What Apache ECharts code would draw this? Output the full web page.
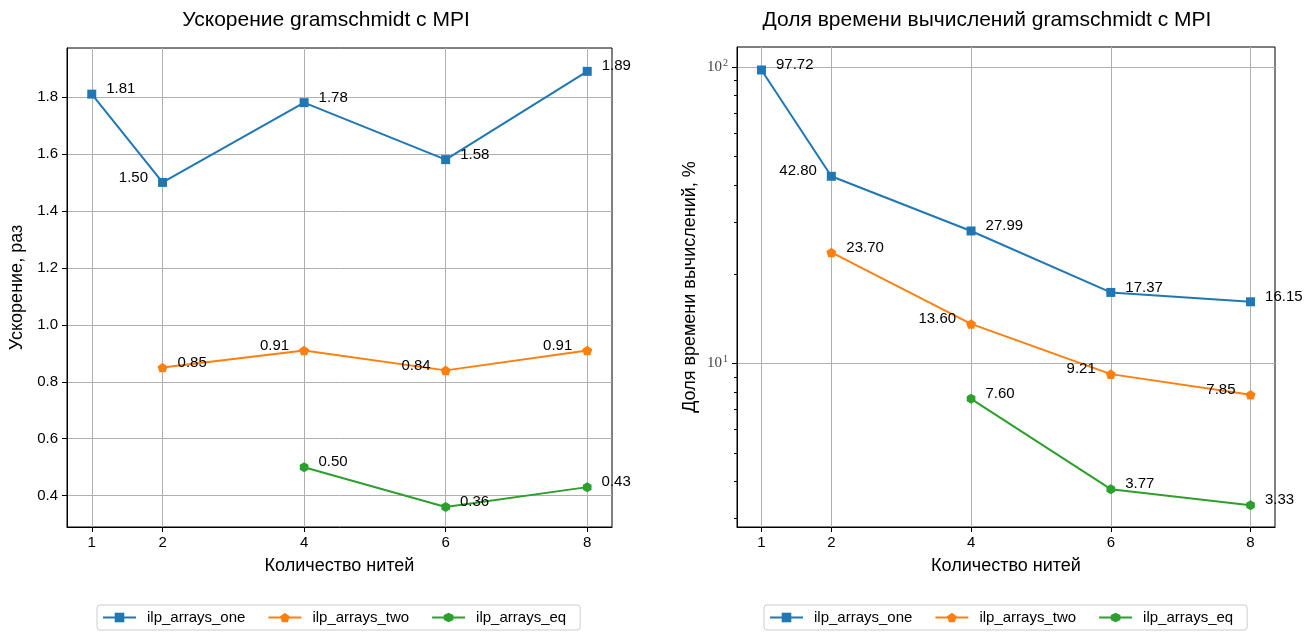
<!DOCTYPE html>
<html><head><meta charset="utf-8">
<script src="https://cdn.jsdelivr.net/npm/echarts@6/dist/echarts.min.js"></script>
<style>html,body{margin:0;padding:0;background:#fff}#c{width:1315px;height:634px}</style>
</head><body><div id="c"></div>
<script>
const threads_one = [1, 2, 4, 6, 8];
const threads_two = [2, 4, 6, 8];
const threads_eq = [4, 6, 8];
const seriesNames = ['ilp_arrays_one', 'ilp_arrays_two', 'ilp_arrays_eq'];
const speedup_one = [1.81, 1.50, 1.78, 1.58, 1.89];
const speedup_two = [0.85, 0.91, 0.84, 0.91];
const speedup_eq = [0.50, 0.36, 0.43];
const share_one = [97.72, 42.80, 27.99, 17.37, 16.15];
const share_two = [23.70, 13.60, 9.21, 7.85];
const share_eq = [7.60, 3.77, 3.33];
const xTicks = [1, 2, 4, 6, 8];
const speedupTicks = [0.4, 0.6, 0.8, 1.0, 1.2, 1.4, 1.6, 1.8];
const shareMajorTicks = [10, 100];
const shareMinorTicks = [3, 4, 5, 6, 7, 8, 9, 20, 30, 40, 50, 60, 70, 80, 90];

const sides_one = ['right', 'left', 'right', 'right', 'right'];
const sides_two = ['right', 'left', 'left', 'left'];
const sides_eq = ['right', 'right', 'right'];

const FONT = '"Liberation Sans", Arial, sans-serif';
const colors = ['#1f77b4', '#ff7f0e', '#2ca02c'];
const PENT = 'path://M0,-10 L9.511,-3.09 L5.878,8.09 L-5.878,8.09 L-9.511,-3.09 Z';
const HEX = 'path://M0,-10 L8.66,-5 L8.66,5 L0,10 L-8.66,5 L-8.66,-5 Z';
const symbols = ['rect', PENT, HEX];
const symSizes = [9, 10, 10];

function mk(idx, xs, ys, sides, xi, yi) {
  return {
    type: 'line', name: seriesNames[idx], xAxisIndex: xi, yAxisIndex: yi,
    data: xs.map((x, i) => ({ value: [x, ys[i]], label: { position: sides[i] } })),
    symbol: symbols[idx], symbolSize: symSizes[idx], symbolKeepAspect: true,
    showAllSymbol: true,
    lineStyle: { width: 2, color: colors[idx] },
    itemStyle: { color: colors[idx] },
    label: { show: true, distance: 10, offset: [0, -5], color: '#000', fontSize: 15, fontFamily: FONT,
      formatter: p => p.value[1].toFixed(2) },
    emphasis: { disabled: true },
    z: 3
  };
}

function xAx(gi) {
  return {
    type: 'value', gridIndex: gi, min: 0.65, max: 8.35,
    name: 'Количество нитей', nameLocation: 'middle', nameGap: 30,
    nameTextStyle: { fontSize: 18, fontFamily: FONT, color: '#000' },
    axisLine: { show: true, lineStyle: { color: '#000', width: 1 } },
    axisTick: { show: true, length: 5, customValues: xTicks, lineStyle: { color: '#000' } },
    axisLabel: { customValues: xTicks, margin: 8, fontSize: 15, fontFamily: FONT, color: '#000' },
    splitLine: { show: true, lineStyle: { color: '#b0b0b0', width: 1 } }
  };
}

const option = {
  animation: false,
  backgroundColor: '#fff',
  title: [
    { text: 'Ускорение gramschmidt с MPI', left: 321, top: 5, textAlign: 'center',
      textStyle: { fontSize: 21, fontWeight: 'normal', fontFamily: FONT, color: '#000' } },
    { text: 'Доля времени вычислений gramschmidt с MPI', left: 982, top: 5, textAlign: 'center',
      textStyle: { fontSize: 21, fontWeight: 'normal', fontFamily: FONT, color: '#000' } }
  ],
  grid: [
    { left: 67, right: 703, top: 48, bottom: 107, show: true, borderColor: '#000', borderWidth: 1, backgroundColor: 'transparent' },
    { left: 737, right: 40, top: 47, bottom: 107, show: true, borderColor: '#000', borderWidth: 1, backgroundColor: 'transparent' }
  ],
  legend: [0, 1].map(i => ({
    data: seriesNames, left: i === 0 ? 97 : 764, top: 605, orient: 'horizontal',
    itemWidth: 33, itemHeight: 12, itemGap: 22,
    backgroundColor: '#fff', borderColor: '#cccccc', borderWidth: 1, borderRadius: 3,
    padding: [5, 14, 5, 5],
    textStyle: { fontSize: 15, fontFamily: FONT, color: '#000', padding: [0, 0, 0, 6] }
  })),
  xAxis: [xAx(0), xAx(1)],
  yAxis: [
    { type: 'value', gridIndex: 0, position: 'left', min: 0.29, max: 1.972,
      name: 'Ускорение, раз', nameLocation: 'middle', nameGap: 41,
      nameTextStyle: { fontSize: 18, fontFamily: FONT, color: '#000' },
      axisLine: { show: true, lineStyle: { color: '#000', width: 1 } },
      axisTick: { show: true, length: 5, customValues: speedupTicks, lineStyle: { color: '#000' } },
      axisLabel: { customValues: speedupTicks, margin: 9, fontSize: 15, fontFamily: FONT, color: '#000',
        formatter: v => v.toFixed(1) },
      splitLine: { show: true, lineStyle: { color: '#b0b0b0', width: 1 } } },
    { type: 'log', logBase: 10, gridIndex: 1, position: 'left', min: 2.81, max: 116.8,
      name: 'Доля времени вычислений, %', nameLocation: 'middle', nameGap: 38,
      nameTextStyle: { fontSize: 18, fontFamily: FONT, color: '#000' },
      axisLine: { show: true, lineStyle: { color: '#000', width: 1 } },
      axisTick: { show: true, length: 5, customValues: shareMajorTicks, lineStyle: { color: '#000' } },
      axisLabel: { customValues: shareMajorTicks, margin: 9, fontFamily: '"Liberation Serif", serif', color: '#444',
        formatter: v => '{b|10}{s|' + Math.round(Math.log10(v)) + '}',
        rich: { b: { fontSize: 15, fontFamily: '"Liberation Serif", serif', color: '#444' },
                s: { fontSize: 10, fontFamily: '"Liberation Serif", serif', color: '#444', verticalAlign: 'top', padding: [0, 0, 8, 1] } } },
      splitLine: { show: true, lineStyle: { color: '#b0b0b0', width: 1 } } },
    { type: 'log', logBase: 10, gridIndex: 1, position: 'left', offset: 0, min: 2.81, max: 116.8,
      axisLine: { show: false },
      axisTick: { show: true, length: 3, customValues: shareMinorTicks, lineStyle: { color: '#000' } },
      axisLabel: { show: false },
      splitLine: { show: false } }
  ],
  series: [
    mk(0, threads_one, speedup_one, sides_one, 0, 0),
    mk(1, threads_two, speedup_two, sides_two, 0, 0),
    mk(2, threads_eq, speedup_eq, sides_eq, 0, 0),
    mk(0, threads_one, share_one, sides_one, 1, 1),
    mk(1, threads_two, share_two, sides_two, 1, 1),
    mk(2, threads_eq, share_eq, sides_eq, 1, 1)
  ]
};
const chart = echarts.init(document.getElementById('c'), null, { renderer: 'canvas' });
chart.setOption(option);
</script>
</body></html>
